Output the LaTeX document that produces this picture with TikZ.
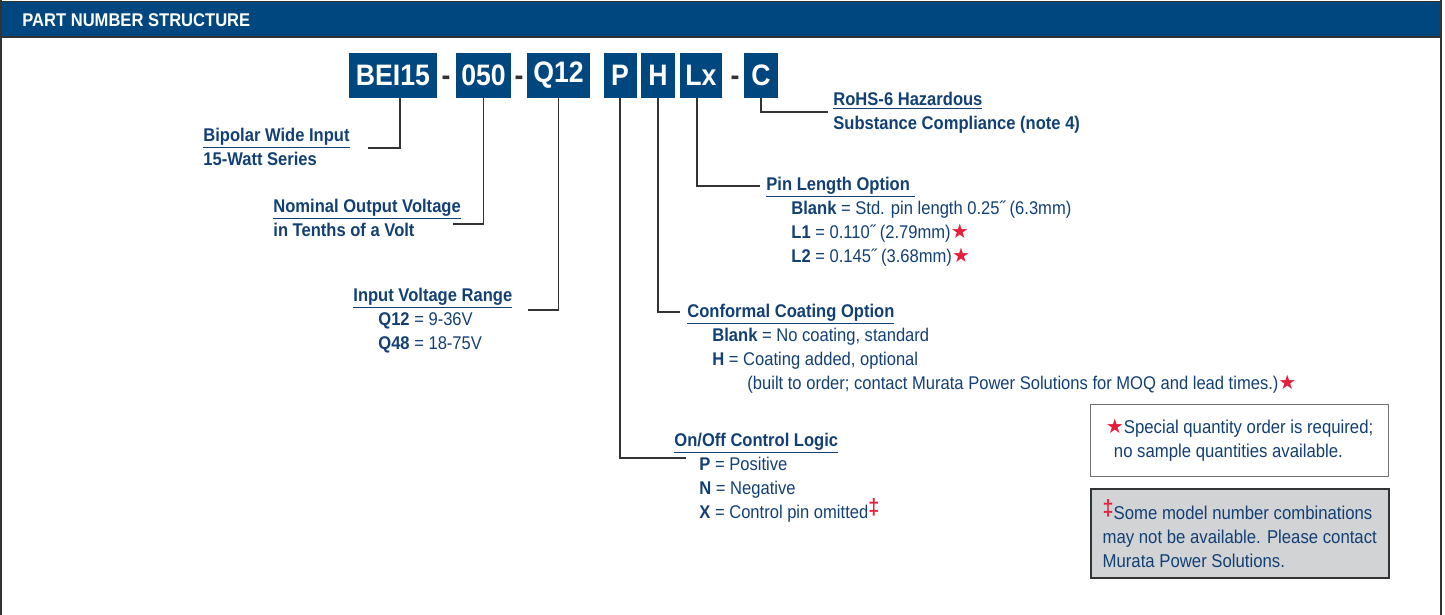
\documentclass[tikz,border=0pt]{standalone}
\usepackage{fontspec}
\setmainfont{Liberation Sans}[FakeStretch=0.9]
\newfontfamily\symfont{DejaVu Sans}
\usepackage{tikz}
\usetikzlibrary{positioning}
\definecolor{cNavy}{RGB}{0,70,127}
\definecolor{cText}{RGB}{18,64,116}
\definecolor{cLine}{RGB}{51,51,51}
\definecolor{cRed}{RGB}{228,30,60}
\definecolor{cNote}{RGB}{210,211,213}
\newcommand{\rstar}{{\color{cRed}\symfont\bfseries\fontsize{10}{10}\selectfont ★}}
\newcommand{\rdag}{\raisebox{2pt}{\color{cRed}\bfseries\fontsize{11}{10}\selectfont ‡}}
\tikzset{
	partbox/.style ={rectangle, fill=cNavy, text=white, font=\bfseries\fontsize{14.8}{16}\selectfont, minimum height=22.5pt, inner sep=0pt},
	dashmark/.style={anchor=base, text=cLine, font=\bfseries\fontsize{14.8}{16}\selectfont, inner sep=0pt},
	% anchored at the baseline of the last line
	infotext/.style={anchor=base west, align=left, inner sep=0pt, text=cText},
	conn/.style    ={draw=cLine, line width=0.75pt},
	% footnote boxes
	notebox/.style ={rectangle, anchor=north west, minimum width=149pt, align=left, text=cText, inner sep=0pt, font=\fontsize{9.3}{12}\selectfont},
}

\begin{document}
\begin{tikzpicture}[x=0.5pt, y=-0.5pt, font=\fontsize{9.2}{12}\selectfont]
	\useasboundingbox (0,0) rectangle (1445,615);
	% header band and frame
	\fill[cNavy] (1,2) rectangle (1441,37);
	\draw[cLine, line width=0.75pt] (1,1.5) -- (1441,1.5);
	\draw[cLine, line width=0.75pt] (1,37) -- (1441,37);
	\draw[cLine, line width=1pt] (1,0) -- (1,615);
	\draw[cLine, line width=1pt] (1441,0) -- (1441,615);
	\node[anchor=base west, inner sep=0pt, text=white, font=\bfseries\fontsize{9.2}{11}\selectfont] (title) at (22,27) {PART NUMBER STRUCTURE};

	% part number fields
	\foreach \nm/\lab/\xc/\w in {bei/BEI15/393/44, vout/050/483.5/27.5, vin/Q12/558.5/31.5, onlog/P/620/16.5, coat/H/658/17, pinl/Lx/701/21, rohsf/C/761/17}
		\node[partbox, minimum width=\w pt] (\nm) at (\xc,75.5) {\lab};
	\foreach \nm/\xc in {dashA/446, dashB/519, dashC/735}
		\node[dashmark] (\nm) at (\xc,86) {-};

	% descriptions
	\node[infotext] (bipolar) at (203,165) {\textbf{\underline{Bipolar Wide Input}}\\\textbf{15-Watt Series}};
	\node[infotext] (nominal) at (273,236) {\textbf{\underline{Nominal Output Voltage}}\\\textbf{in Tenths of a Volt}};
	\node[infotext] (range) at (353,349) {\textbf{\underline{Input Voltage Range}}\\
		\hspace*{12.5pt}\textbf{Q12} = 9-36V\\
		\hspace*{12.5pt}\textbf{Q48} = 18-75V};
	\node[infotext] (rohs) at (833,129) {\textbf{\underline{RoHS-6 Hazardous}}\\\textbf{Substance Compliance (note 4)}};
	\node[infotext] (pinlen) at (766,262) {\textbf{\underline{Pin Length Option~}}\\
		\hspace*{12.5pt}\textbf{Blank} = Std. pin length 0.25˝ (6.3mm)\\
		\hspace*{12.5pt}\textbf{L1} = 0.110˝ (2.79mm)\rstar\\
		\hspace*{12.5pt}\textbf{L2} = 0.145˝ (3.68mm)\rstar};
	\node[infotext] (coating) at (687,389) {\textbf{\underline{Conformal Coating Option}}\\
		\hspace*{12.5pt}\textbf{Blank} = No coating, standard\\
		\hspace*{12.5pt}\textbf{H} = Coating added, optional\\
		\hspace*{30pt}(built to order; contact Murata Power Solutions for MOQ and lead times.)\rstar};
	\node[infotext] (onoff) at (674,518) {\textbf{\underline{On/Off Control Logic}}\\
		\hspace*{12.5pt}\textbf{P} = Positive\\
		\hspace*{12.5pt}\textbf{N} = Negative\\
		\hspace*{12.5pt}\textbf{X} = Control pin omitted\rdag};

	% leader lines
	\coordinate (kBei) at (368,148);
	\coordinate (kNom) at (453,224);
	\coordinate (kRange) at (528,310);
	\coordinate (kRohs) at (828,112);
	\coordinate (kPin) at (760,186);
	\coordinate (kCoat) at (680,312);
	\coordinate (kOnoff) at (686,458);
	\draw[conn] ([xshift=3.5pt]bei.south) |- (kBei);
	\draw[conn] (vout.south) |- (kNom);
	\draw[conn] (vin.south) |- (kRange);
	\draw[conn] (rohsf.south) |- (kRohs);
	\draw[conn] ([xshift=-2pt]pinl.south) |- (kPin);
	\draw[conn] (coat.south) |- (kCoat);
	\draw[conn] (onlog.south) |- (kOnoff);

	% notes
	\node[notebox, draw=cLine!70, line width=0.6pt, fill=white, minimum height=36pt] (noteA) at (1090,404)
		{\rstar Special quantity order is required;\\\hspace*{4pt}no sample quantities available.};
	\node[notebox, draw=cLine, line width=0.75pt, fill=cNote, minimum height=44.5pt] (noteB) at (1090,488)
		{\rdag Some model number combinations\\may not be available. Please contact\\Murata Power Solutions.};
\end{tikzpicture}
\end{document}
